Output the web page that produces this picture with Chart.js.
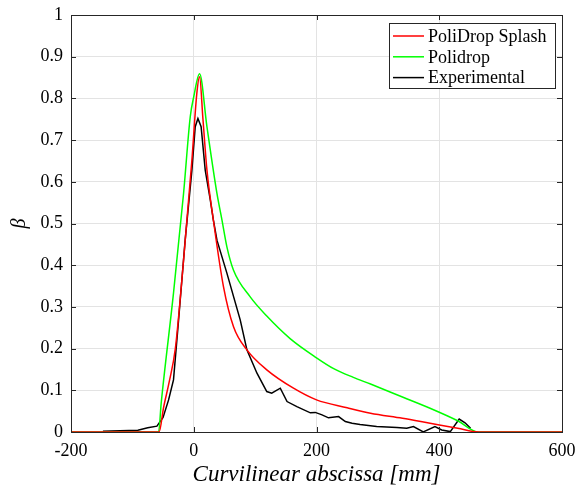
<!DOCTYPE html>
<html>
<head>
<meta charset="utf-8">
<script src="https://cdn.jsdelivr.net/npm/chart.js@4.4.1/dist/chart.umd.min.js"></script>
<style>
  html, body { margin: 0; padding: 0; background: #fff; }
  #wrap { width: 576px; height: 490px; }
</style>
</head>
<body>
<div id="wrap"><canvas id="chart" width="576" height="490"></canvas></div>
<script>
// beta vs curvilinear abscissa [mm]
const splashX = [-200, -56.5, -49, -40, -30, -16.6, -3, 5, 9.5, 15, 21.5, 32, 48.5, 64.8, 86.6, 119, 162.5, 200, 250, 288, 340, 385, 430, 464, 600]
const splashY = [0, 0, 0.06, 0.12, 0.2, 0.412, 0.652, 0.812, 0.852, 0.75, 0.628, 0.508, 0.348, 0.2525, 0.197, 0.149, 0.105, 0.077, 0.058, 0.045, 0.033, 0.021, 0.009, 0, 0]

const polidropX = [-200, -57.3, -53, -33, -16.6, -5.7, 0, 9.5, 21.5, 37.8, 46, 54, 64.8, 92, 119, 157, 200, 228, 260, 288, 340, 385, 430, 464, 600]
const polidropY = [0, 0, 0.07, 0.333, 0.572, 0.756, 0.804, 0.859, 0.732, 0.572, 0.508, 0.444, 0.388, 0.324, 0.278, 0.224, 0.178, 0.152, 0.131, 0.115, 0.084, 0.057, 0.027, 0, 0]

const expX = [-148, -120, -91, -75, -60, -50, -41, -33, -24.7, -14, -3, 2.4, 6.8, 12, 18.7, 27, 32, 37.8, 54, 65, 75.7, 86.6, 103, 119, 127, 141, 152, 168, 190, 198, 209, 219.5, 236, 247, 258, 271, 298, 331, 347, 358, 374, 393, 404, 418, 432.5, 442, 451]
const expY = [0.002, 0.003, 0.004, 0.01, 0.014, 0.035, 0.077, 0.125, 0.269, 0.46, 0.628, 0.732, 0.752, 0.732, 0.628, 0.556, 0.508, 0.46, 0.381, 0.324, 0.269, 0.197, 0.141, 0.097, 0.093, 0.105, 0.073, 0.061, 0.046, 0.047, 0.041, 0.034, 0.037, 0.025, 0.021, 0.018, 0.013, 0.011, 0.009, 0.013, 0, 0.013, 0.005, 0.001, 0.031, 0.022, 0.009]

const xTicks = [-200, 0, 200, 400, 600]
const yTicks = [0, 0.1, 0.2, 0.3, 0.4, 0.5, 0.6, 0.7, 0.8, 0.9, 1]

const toPoints = (xs, ys) => xs.map((x, i) => ({ x, y: ys[i] }))

const SERIF = "'Liberation Serif', 'Times New Roman', serif"
const AXIS = "#262626"
const GRID = "#e3e3e3"

// axes box with inward ticks, MATLAB style
const boxPlugin = {
  id: "box",
  afterDatasetsDraw(chart) {
    const { ctx, chartArea: a, scales } = chart
    ctx.save()
    ctx.strokeStyle = AXIS
    ctx.lineWidth = 1
    ctx.beginPath()
    xTicks.forEach((v) => {
      const px = Math.round(scales.x.getPixelForValue(v)) + 0.5
      ctx.moveTo(px, a.bottom); ctx.lineTo(px, a.bottom - 5)
      ctx.moveTo(px, a.top); ctx.lineTo(px, a.top + 5)
    })
    yTicks.forEach((v) => {
      const py = Math.round(scales.y.getPixelForValue(v)) + 0.5
      ctx.moveTo(a.left, py); ctx.lineTo(a.left + 5, py)
      ctx.moveTo(a.right, py); ctx.lineTo(a.right - 5, py)
    })
    ctx.stroke()
    ctx.strokeRect(Math.round(a.left) + 0.5, Math.round(a.top) + 0.5,
      Math.round(a.right - a.left), Math.round(a.bottom - a.top))
    ctx.restore()
  },
}

// legend box in the upper right corner
const legendPlugin = {
  id: "boxLegend",
  afterDraw(chart) {
    const { ctx } = chart
    const x0 = 389.5, y0 = 23.5, w = 166, h = 65
    ctx.save()
    ctx.fillStyle = "#fff"
    ctx.fillRect(x0, y0, w, h)
    ctx.strokeStyle = AXIS
    ctx.lineWidth = 1
    ctx.strokeRect(x0, y0, w, h)
    ctx.font = "18px " + SERIF
    ctx.textBaseline = "middle"
    chart.data.datasets.forEach((ds, i) => {
      const y = 36 + i * 20.8
      ctx.strokeStyle = ds.borderColor
      ctx.lineWidth = ds.borderWidth
      ctx.beginPath()
      ctx.moveTo(393, y); ctx.lineTo(424, y)
      ctx.stroke()
      ctx.fillStyle = "#000"
      ctx.fillText(ds.label, 428, y + 1)
    })
    ctx.restore()
  },
}

const ctx = document.getElementById("chart").getContext("2d")

new Chart(ctx, {
  type: "line",
  data: {
    datasets: [
      {
        label: "PoliDrop Splash",
        data: toPoints(splashX, splashY),
        borderColor: "#ff0000",
        borderWidth: 1.5,
        cubicInterpolationMode: "monotone",
      },
      {
        label: "Polidrop",
        data: toPoints(polidropX, polidropY),
        borderColor: "#00ff00",
        borderWidth: 1.5,
        cubicInterpolationMode: "monotone",
      },
      {
        label: "Experimental",
        data: toPoints(expX, expY),
        borderColor: "#000000",
        borderWidth: 1.5,
        tension: 0,
      },
    ],
  },
  options: {
    responsive: false,
    animation: false,
    clip: false,
    layout: { padding: { top: 15, right: 14, left: 0, bottom: 0 } },
    elements: { point: { radius: 0 } },
    plugins: {
      legend: { display: false },
      tooltip: { enabled: false },
    },
    scales: {
      x: {
        type: "linear",
        min: -200,
        max: 600,
        afterBuildTicks: (scale) => { scale.ticks = xTicks.map((v) => ({ value: v })) },
        afterFit: (scale) => {
          scale.height = 58
          scale.paddingLeft = 0
          scale.paddingRight = 0
        },
        grid: { color: GRID, drawTicks: false },
        border: { display: false },
        ticks: { color: "#000", padding: 8, font: { family: SERIF, size: 18 } },
        title: {
          display: true,
          text: "Curvilinear abscissa [mm]",
          color: "#000",
          padding: { top: 0, bottom: 1 },
          font: { family: SERIF, size: 23, style: "italic" },
        },
      },
      y: {
        min: 0,
        max: 1,
        afterBuildTicks: (scale) => { scale.ticks = yTicks.map((v) => ({ value: v })) },
        afterFit: (scale) => {
          scale.width = 71
          scale.paddingTop = 0
          scale.paddingBottom = 0
        },
        grid: { color: GRID, drawTicks: false },
        border: { display: false },
        ticks: {
          color: "#000",
          padding: 8,
          font: { family: SERIF, size: 18 },
          callback: (v) => (v === 0 || v === 1 ? String(v) : v.toFixed(1)),
        },
        title: {
          display: true,
          text: "β",
          color: "#000",
          padding: { top: 8, bottom: 0 },
          font: { family: SERIF, size: 20, style: "italic" },
        },
      },
    },
  },
  plugins: [boxPlugin, legendPlugin],
})
</script>
</body>
</html>
